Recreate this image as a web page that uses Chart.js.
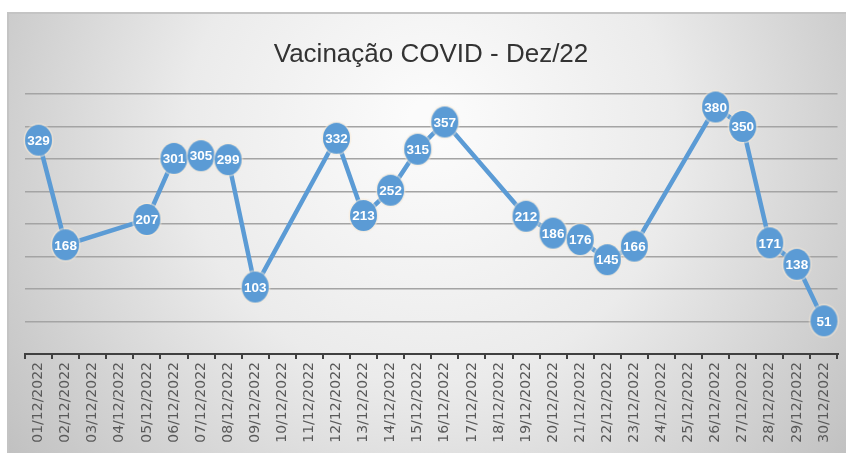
<!DOCTYPE html>
<html>
<head>
<meta charset="utf-8">
<title>Vacinação COVID - Dez/22</title>
<script src="https://cdn.jsdelivr.net/npm/chart.js@4.4.1/dist/chart.umd.min.js"></script>
<style>
  html, body { margin: 0; padding: 0; background: #fff; }
  #wrap { width: 846px; height: 453px; }
</style>
</head>
<body>
<div id="wrap"><canvas id="chart" width="846" height="453"></canvas></div>
<script>
  "use strict";

  // dias de dezembro/2022
  const dias = [
    '01/12/2022', '02/12/2022', '03/12/2022', '04/12/2022', '05/12/2022',
    '06/12/2022', '07/12/2022', '08/12/2022', '09/12/2022', '10/12/2022',
    '11/12/2022', '12/12/2022', '13/12/2022', '14/12/2022', '15/12/2022',
    '16/12/2022', '17/12/2022', '18/12/2022', '19/12/2022', '20/12/2022',
    '21/12/2022', '22/12/2022', '23/12/2022', '24/12/2022', '25/12/2022',
    '26/12/2022', '27/12/2022', '28/12/2022', '29/12/2022', '30/12/2022'
  ];

  // doses aplicadas por dia (null = sem vacinação)
  const doses = [
    329, 168, null, null, 207,
    301, 305, 299, 103, null,
    null, 332, 213, 252, 315,
    357, null, null, 212, 186,
    176, 145, 166, null, null,
    380, 350, 171, 138, 51
  ];

  const titulo = 'Vacinação COVID - Dez/22';
  const eixoMax = 400;
  const eixoPasso = 50;

  const azul = '#5B9BD5';

  // marcador oval com leve brilho em volta
  function marcador(w, h) {
    const c = document.createElement('canvas');
    c.width = w + 6;
    c.height = h + 6;
    const g = c.getContext('2d');
    g.beginPath();
    g.ellipse(c.width / 2, c.height / 2, w / 2 + 1.5, h / 2 + 1.5, 0, 0, Math.PI * 2);
    g.fillStyle = 'rgba(250, 235, 215, 0.55)';
    g.fill();
    g.beginPath();
    g.ellipse(c.width / 2, c.height / 2, w / 2, h / 2, 0, 0, Math.PI * 2);
    g.fillStyle = azul;
    g.fill();
    return c;
  }

  // painel cinza com degradê e o título
  const fundo = {
    id: 'fundo',
    beforeDraw(chart) {
      const ctx = chart.ctx;
      const W = chart.width, H = chart.height;
      ctx.save();
      ctx.fillStyle = '#ffffff';
      ctx.fillRect(0, 0, W, H);
      const grad = ctx.createRadialGradient(430, 120, 20, 430, 160, 520);
      grad.addColorStop(0, '#fbfbfb');
      grad.addColorStop(0.45, '#ebebeb');
      grad.addColorStop(1, '#c0c0c0');
      ctx.fillStyle = grad;
      ctx.fillRect(7, 12, W - 7, H - 12);
      ctx.strokeStyle = '#c4c4c4';
      ctx.lineWidth = 2;
      ctx.beginPath();
      ctx.moveTo(7, 13);
      ctx.lineTo(W, 13);
      ctx.moveTo(8, 12);
      ctx.lineTo(8, H);
      ctx.stroke();

      ctx.font = '26px "Liberation Sans", sans-serif';
      ctx.fillStyle = '#333333';
      ctx.textAlign = 'center';
      ctx.textBaseline = 'alphabetic';
      ctx.fillText(titulo, 431, 62);
      ctx.restore();
    }
  };

  const rotulos = {
    id: 'rotulos',
    afterDatasetsDraw(chart) {
      const ctx = chart.ctx;
      const meta = chart.getDatasetMeta(0);
      ctx.save();
      ctx.font = 'bold 13.5px "Liberation Sans", sans-serif';
      ctx.fillStyle = '#ffffff';
      ctx.textAlign = 'center';
      ctx.textBaseline = 'middle';
      meta.data.forEach(function(pt, i) {
        const v = chart.data.datasets[0].data[i];
        if (v === null) return;
        ctx.fillText(String(v), pt.x, pt.y + 1);
      });
      ctx.restore();
    }
  };

  const chart = new Chart(document.getElementById('chart'), {
    type: 'line',
    data: {
      labels: dias,
      datasets: [{
        label: 'Doses',
        data: doses,
        spanGaps: true,
        borderColor: azul,
        borderWidth: 4.5,
        backgroundColor: azul,
        pointStyle: marcador(27, 31),
        clip: false,
        tension: 0
      }]
    },
    options: {
      responsive: false,
      animation: false,
      events: [],
      layout: { padding: { left: 0, right: 8, top: 94, bottom: 0 } },
      plugins: {
        legend: { display: false },
        tooltip: { enabled: false },
        title: { display: false }
      },
      scales: {
        x: {
          offset: true,
          grid: {
            display: true,
            offset: true,
            drawOnChartArea: false,
            drawTicks: true,
            tickLength: 5,
            color: '#404040',
            lineWidth: 2
          },
          border: { display: true, color: '#404040', width: 2 },
          ticks: {
            minRotation: 90,
            maxRotation: 90,
            autoSkip: false,
            padding: 3,
            color: '#595959',
            font: { family: '"DejaVu Sans", sans-serif', size: 14 }
          },
          afterFit(scale) { scale.height = 99; }
        },
        y: {
          min: 0,
          max: eixoMax,
          ticks: { display: false, stepSize: eixoPasso },
          grid: {
            color: function(c) { return c.tick.value === 0 ? 'rgba(0,0,0,0)' : '#a4a4a4'; },
            lineWidth: 1.5,
            drawTicks: false
          },
          border: { display: false },
          afterFit(scale) { scale.width = 25; }
        }
      }
    },
    plugins: [fundo, rotulos]
  });
</script>
</body>
</html>
